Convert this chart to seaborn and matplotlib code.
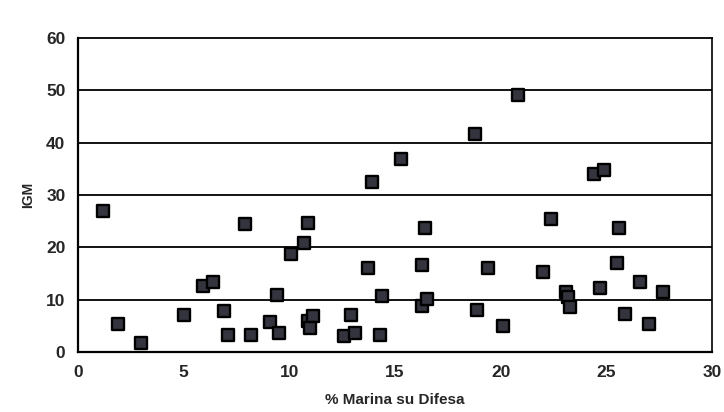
import matplotlib
matplotlib.use("Agg")
import matplotlib.pyplot as plt
import seaborn as sns
import pandas as pd

# valori
marina_su_difesa = [1.2, 1.9, 3.0, 5.0, 5.9, 6.4, 6.9, 7.1, 7.9, 8.2,
                    9.1, 9.4, 9.5, 10.1, 10.7, 10.9, 10.9, 11.1, 11.0, 12.6,
                    12.9, 13.1, 13.7, 14.3, 14.4, 13.9, 15.3, 18.8, 20.8, 24.4,
                    24.9, 16.4, 22.4, 25.6, 16.3, 19.4, 22.0, 25.5, 24.7, 26.6,
                    27.7, 23.1, 23.2, 23.3, 25.9, 27.0, 20.1, 18.9, 16.3, 16.5]
igm = [27.0, 5.3, 1.7, 7.0, 12.6, 13.4, 7.8, 3.2, 24.5, 3.3,
       5.8, 10.9, 3.6, 18.8, 20.8, 24.6, 6.0, 6.9, 4.5, 3.0,
       7.1, 3.7, 16.1, 3.3, 10.7, 32.5, 36.9, 41.6, 49.2, 34.1,
       34.7, 23.7, 25.4, 23.6, 16.6, 16.1, 15.2, 17.1, 12.3, 13.3,
       11.4, 11.5, 10.6, 8.6, 7.2, 5.3, 5.0, 8.0, 8.8, 10.1]

x_ticks = [0, 5, 10, 15, 20, 25, 30]
y_ticks = [0, 10, 20, 30, 40, 50, 60]

df = pd.DataFrame({"marina": marina_su_difesa, "igm": igm})

sns.set_style("white")
plt.rcParams["font.family"] = ["Liberation Sans", "DejaVu Sans"]

fig = plt.figure(figsize=(7.24, 4.12), dpi=100)
ax = fig.add_axes([0.1077, 0.1456, 0.8757, 0.7622])

for v in y_ticks[1:-1]:
    ax.axhline(v, color="black", lw=1.3, zorder=1)

sns.scatterplot(data=df, x="marina", y="igm", ax=ax, marker="s", s=85,
                color="#34343f", edgecolor="black", linewidth=1.7, zorder=3)

ax.set_xlim(0, 30)
ax.set_ylim(0, 60)
ax.set_xticks(x_ticks)
ax.set_yticks(y_ticks)
ax.tick_params(axis="both", direction="out", length=5, width=1.2,
               labelsize=12.5, color="black", pad=4)
for lab in ax.get_xticklabels() + ax.get_yticklabels():
    lab.set_fontweight("bold")

for side in ["left", "bottom", "right", "top"]:
    ax.spines[side].set_visible(True)
    ax.spines[side].set_color("black")
ax.spines["left"].set_linewidth(1.6)
ax.spines["bottom"].set_linewidth(1.6)
ax.spines["right"].set_linewidth(1.2)
ax.spines["top"].set_linewidth(1.3)

ax.set_xlabel("% Marina su Difesa", fontsize=11, fontweight="bold", labelpad=10)
ax.set_ylabel("IGM", fontsize=10, fontweight="bold", labelpad=8)

fig.savefig("out.png", dpi=100)
